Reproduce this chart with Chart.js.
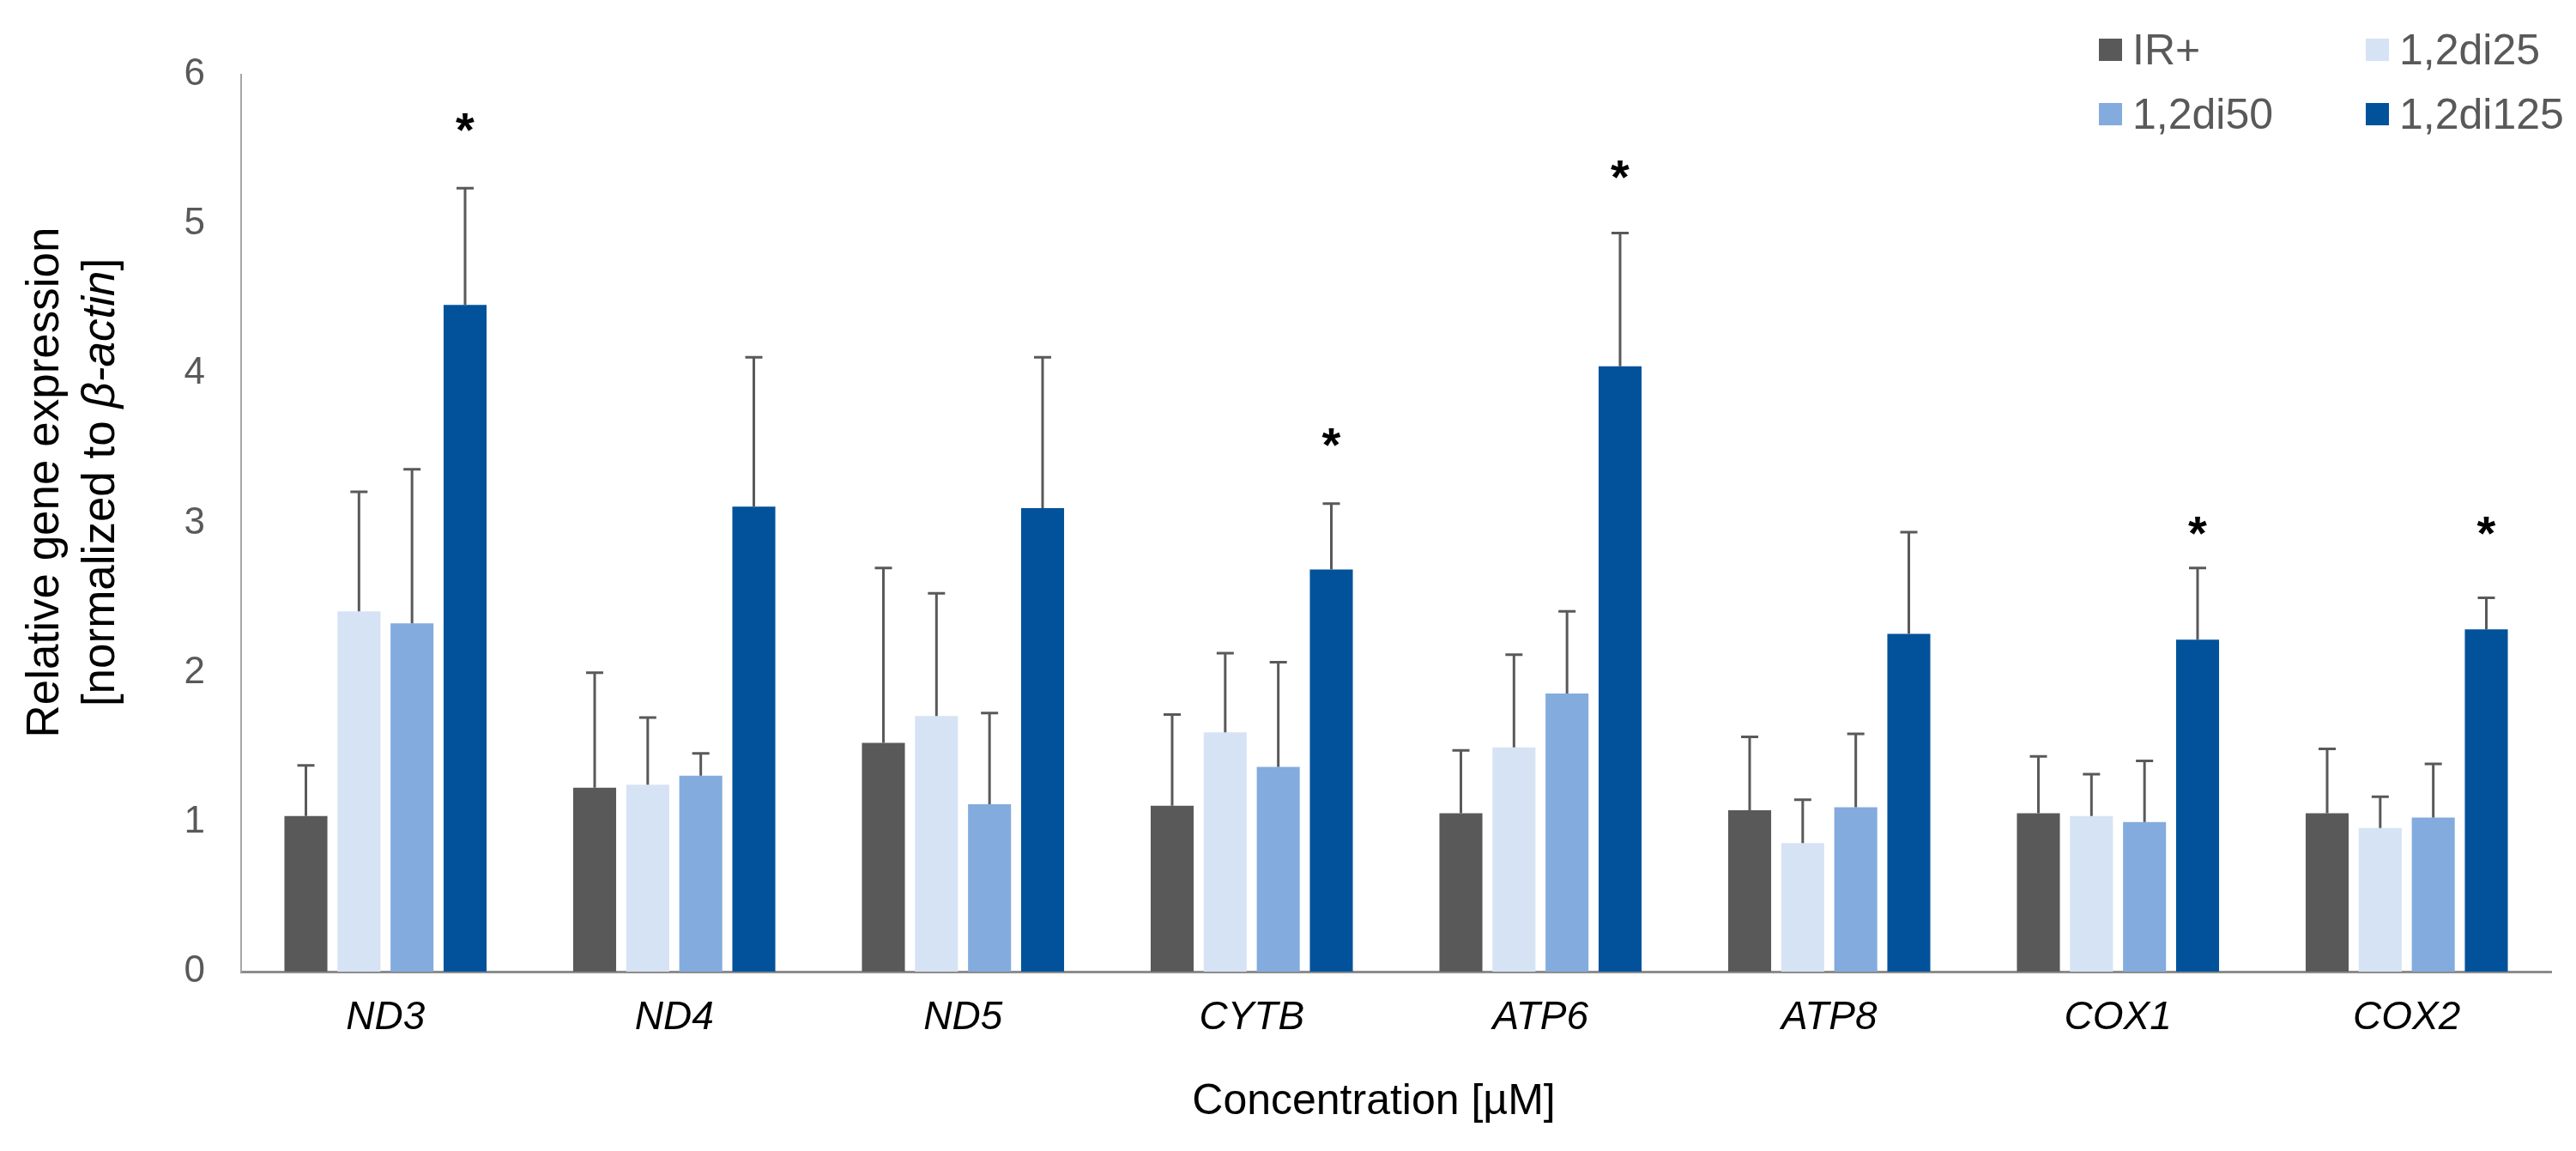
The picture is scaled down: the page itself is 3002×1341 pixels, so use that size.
<!DOCTYPE html>
<html><head><meta charset="utf-8">
<script src="https://cdn.jsdelivr.net/npm/chart.js@4.4.1/dist/chart.umd.min.js"></script>
<style>html,body{margin:0;padding:0;background:#fff;overflow:hidden}canvas{display:block}</style>
</head><body>
<canvas id="c" width="3002" height="1341"></canvas>
<script>
// ---- data ----
const genes = ['ND3', 'ND4', 'ND5', 'CYTB', 'ATP6', 'ATP8', 'COX1', 'COX2'];
const seriesNames = ['IR+', '1,2di25', '1,2di50', '1,2di125'];
const irPlus   = [1.04, 1.23, 1.53, 1.11, 1.06, 1.08, 1.06, 1.06];
const di25     = [2.41, 1.25, 1.71, 1.60, 1.50, 0.86, 1.04, 0.96];
const di50     = [2.33, 1.31, 1.12, 1.37, 1.86, 1.10, 1.00, 1.03];
const di125    = [4.46, 3.11, 3.10, 2.69, 4.05, 2.26, 2.22, 2.29];
const irPlusSD = [0.34, 0.77, 1.17, 0.61, 0.42, 0.49, 0.38, 0.43];
const di25SD   = [0.80, 0.45, 0.82, 0.53, 0.62, 0.29, 0.28, 0.21];
const di50SD   = [1.03, 0.15, 0.61, 0.70, 0.55, 0.49, 0.41, 0.36];
const di125SD  = [0.78, 1.00, 1.01, 0.44, 0.89, 0.68, 0.48, 0.21];
// significance asterisk levels (value axis), only for 1,2di125
const di125Stars = [5.71, null, null, 3.60, 5.39, null, 3.01, 3.01];
const yMin = 0, yMax = 6, yStep = 1;
const yTitle1 = 'Relative gene expression';
const yTitle2a = '[normalized to ', yTitle2b = 'β-actin', yTitle2c = ']';
const xTitle = 'Concentration [µM]';

const colors = ['#595959', '#D6E3F4', '#83ABDE', '#02529B'];
const sdSeries = [irPlusSD, di25SD, di50SD, di125SD];
const starSeries = [null, null, null, di125Stars];
const FF = "'Liberation Sans', Arial, sans-serif";

const errorBars = {
  id: 'errorBars',
  afterDatasetsDraw(chart) {
    const ctx = chart.ctx, y = chart.scales.y;
    chart.data.datasets.forEach((ds, i) => {
      const meta = chart.getDatasetMeta(i);
      meta.data.forEach((bar, j) => {
        const v = ds.data[j], e = sdSeries[i][j];
        const y0 = y.getPixelForValue(v), y1 = y.getPixelForValue(v + e);
        ctx.save();
        ctx.strokeStyle = '#595959';
        ctx.lineWidth = 3;
        ctx.beginPath();
        ctx.moveTo(bar.x, y0); ctx.lineTo(bar.x, y1);
        ctx.moveTo(bar.x - 10, y1); ctx.lineTo(bar.x + 10, y1);
        ctx.stroke();
        ctx.restore();
        const st = starSeries[i];
        if (st && st[j] != null) {
          ctx.save();
          ctx.fillStyle = '#000';
          ctx.font = 'bold 56px ' + FF;
          ctx.textAlign = 'center';
          ctx.textBaseline = 'alphabetic';
          ctx.fillText('*', bar.x, y.getPixelForValue(st[j]) + 32);
          ctx.restore();
        }
      });
    });
  }
};

const decorations = {
  id: 'decorations',
  afterDraw(chart) {
    const ctx = chart.ctx;
    // Legend (2 x 2)
    const cols = [2446, 2757], rows = [45, 120];
    ctx.save();
    chart.data.datasets.forEach((ds, i) => {
      const cx = cols[i % 2], cy = rows[Math.floor(i / 2)];
      ctx.fillStyle = ds.backgroundColor;
      ctx.fillRect(cx, cy, 27, 26);
      ctx.fillStyle = '#595959';
      ctx.font = '50px ' + FF;
      ctx.textAlign = 'left';
      ctx.textBaseline = 'alphabetic';
      ctx.fillText(ds.label, cx + 39, cy + 30);
    });
    ctx.restore();

    // Y title (rotated, two lines)
    const cy = 562;
    ctx.save();
    ctx.fillStyle = '#000';
    ctx.textBaseline = 'alphabetic';
    ctx.translate(68, cy);
    ctx.rotate(-Math.PI / 2);
    ctx.font = '53px ' + FF;
    ctx.textAlign = 'center';
    ctx.fillText(yTitle1, 0, 0);
    ctx.restore();

    ctx.save();
    ctx.fillStyle = '#000';
    ctx.textBaseline = 'alphabetic';
    ctx.translate(133, cy);
    ctx.rotate(-Math.PI / 2);
    ctx.font = '53px ' + FF;
    const wa = ctx.measureText(yTitle2a).width, wc = ctx.measureText(yTitle2c).width;
    ctx.font = 'italic 53px ' + FF;
    const wb = ctx.measureText(yTitle2b).width;
    let x0 = -(wa + wb + wc) / 2;
    ctx.textAlign = 'left';
    ctx.font = '53px ' + FF;
    ctx.fillText(yTitle2a, x0, 0);
    ctx.font = 'italic 53px ' + FF;
    ctx.fillText(yTitle2b, x0 + wa, 0);
    ctx.font = '53px ' + FF;
    ctx.fillText(yTitle2c, x0 + wa + wb, 0);
    ctx.restore();

    // X title
    ctx.save();
    ctx.fillStyle = '#000';
    ctx.font = '50px ' + FF;
    ctx.textAlign = 'center';
    ctx.textBaseline = 'alphabetic';
    const ca = chart.chartArea;
    ctx.fillText(xTitle, (ca.left + ca.right) / 2 - 26, 1298);
    ctx.restore();
  }
};

new Chart(document.getElementById('c'), {
  type: 'bar',
  data: {
    labels: genes,
    datasets: [irPlus, di25, di50, di125].map((d, i) => ({
      label: seriesNames[i],
      data: d,
      backgroundColor: colors[i],
      borderWidth: 0,
      categoryPercentage: 0.735,
      barPercentage: 0.81
    }))
  },
  options: {
    responsive: false,
    devicePixelRatio: 1,
    animation: false,
    layout: { padding: { left: 0, top: 87, right: 29, bottom: 0 } },
    plugins: { legend: { display: false }, tooltip: { enabled: false } },
    scales: {
      x: {
        grid: { display: false, drawTicks: false },
        border: { display: true, color: '#8C8C8C', width: 3 },
        ticks: { font: { family: FF, size: 46, style: 'italic' }, color: '#000', padding: 27 },
        afterFit(s) { s.height = 209; }
      },
      y: {
        min: yMin, max: yMax,
        grid: { display: false, drawTicks: false },
        border: { display: true, color: '#A6A6A6', width: 2 },
        ticks: { stepSize: yStep, font: { family: FF, size: 44 }, color: '#595959', padding: 42 },
        afterFit(s) { s.width = 281; }
      }
    }
  },
  plugins: [errorBars, decorations]
});
</script>
</body></html>
